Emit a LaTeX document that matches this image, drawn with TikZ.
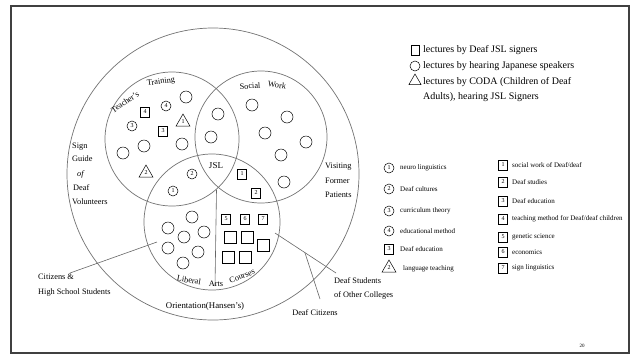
\documentclass[tikz,border=0pt]{standalone}
\usepackage{fontspec}
\setmainfont{Liberation Serif}
\usetikzlibrary{shapes.geometric}

\begin{document}
\begin{tikzpicture}[x=1pt,y=-1pt,
ring/.style={circle,draw=black!55,line width=0.7pt,inner sep=0pt},
hc/.style={circle,draw,line width=0.5pt,minimum size=12pt,inner sep=0pt},
hcn/.style={circle,draw,line width=0.5pt,minimum size=10pt,inner sep=0pt,font=\fontsize{6}{6}\selectfont},
ds/.style={rectangle,draw,line width=0.5pt,minimum size=12pt,inner sep=0pt},
dsn/.style={rectangle,draw,line width=0.5pt,minimum width=9pt,minimum height=10pt,inner sep=0pt,font=\fontsize{6}{6}\selectfont},
cd/.style={regular polygon,regular polygon sides=3,draw,line width=0.5pt,minimum size=16pt,inner sep=0pt,font=\fontsize{6}{6}\selectfont},
lbl/.style={font=\fontsize{8.3}{9}\selectfont,inner sep=0pt},
key/.style={font=\fontsize{10}{11}\selectfont,anchor=west,inner sep=0pt},
subkey/.style={font=\fontsize{7}{8}\selectfont,anchor=west,inner sep=0pt},
lead/.style={draw=black!60,line width=0.6pt}]
\useasboundingbox (0,0) rectangle (632,357);
\draw[black!75,line width=1.6pt] (11,6) rectangle (629,353);

\node[ring,minimum size=292pt] (OUT) at (213,174) {};
\node[ring,minimum size=134pt] (TT) at (172,139) {};
\node[ring,minimum size=132pt] (SW) at (261,137) {};
\node[ring,minimum size=136pt] (LA) at (212,222) {};

\coordinate (J) at (216.5,190);
\coordinate (K) at (215,286);
\path[lead] (J) edge (K);

\node[lbl,rotate=35] (tt1) at (125,102) {Teacher's};
\node[lbl,rotate=8] (tt2) at (161,82) {Training};
\node[lbl,rotate=3] (sw1) at (250,86) {Social};
\node[lbl,rotate=-8] (sw2) at (277,85) {Work};
\node[lbl,font=\fontsize{9}{9}\selectfont] (jsl) at (216,166) {JSL};
\node[lbl,rotate=-10] (la1) at (189,280) {Liberal};
\node[lbl] (la2) at (216,284) {Arts};
\node[lbl,rotate=22] (la3) at (242,276) {Courses};

\node[dsn] (t1) at (145,112) {4};
\node[hcn] (t2) at (166,106) {4};
\node[hc] (t3) at (186,97) {};
\node[hcn] (t4) at (132,126) {3};
\node[dsn] (t5) at (163,131) {3};
\node[cd] (t6) at (183,122) {1};
\node[hc] (t7) at (123,153) {};
\node[hc] (t8) at (144,146) {};
\node[hc] (t9) at (182,144) {};
\node[cd] (t10) at (146,173) {2};

\node[hc] (x1) at (218,114) {};
\node[hc] (x2) at (211,137) {};
\node[hcn] (x3) at (192,174) {2};
\node[hcn] (x4) at (173,191) {1};
\node[dsn] (x5) at (242,174) {1};
\node[dsn] (x6) at (256,193) {2};

\node[hc] (s1) at (252,105) {};
\node[hc] (s2) at (287,117) {};
\node[hc] (s3) at (265,133) {};
\node[hc] (s4) at (306,142) {};
\node[hc] (s5) at (281,155) {};
\node[hc] (s6) at (284,182) {};

\node[hc] (l1) at (192,217) {};
\node[hc] (l2) at (168,228) {};
\node[hc] (l3) at (204,232) {};
\node[hc] (l4) at (184,237) {};
\node[hc] (l5) at (168,248) {};
\node[hc] (l6) at (198,252) {};
\node[hc] (l7) at (183,263) {};
\node[dsn] (l8) at (226,219) {5};
\node[dsn] (l9) at (245,219) {6};
\node[dsn] (l10) at (263,219) {7};
\node[ds] (l11) at (230,237) {};
\node[ds] (l12) at (247,237) {};
\node[ds] (l13) at (263,245) {};
\node[ds] (l14) at (228,257) {};
\node[ds] (l15) at (245,257) {};

\node[lbl,anchor=west] (g1) at (72,147) {Sign};
\node[lbl,anchor=west] (g2) at (72,159) {Guide};
\node[lbl,anchor=west] (g3) at (77,174) {\itshape of};
\node[lbl,anchor=west] (g4) at (73,188) {Deaf};
\node[lbl,anchor=west] (g5) at (72,202) {Volunteers};

\node[lbl,anchor=west] (v1) at (325,167) {Visiting};
\node[lbl,anchor=west] (v2) at (325,181) {Former};
\node[lbl,anchor=west] (v3) at (325,195) {Patients};

\node[lbl,anchor=west] (c1) at (38,277) {Citizens \&};
\node[lbl,anchor=west] (c2) at (38,293) {High School Students};
\coordinate (C) at (70,273);
\coordinate (D) at (157,242);
\path[lead] (C) edge (D);

\node[lbl,font=\fontsize{8.8}{9}\selectfont] (ori) at (205,306) {Orientation(Hansen's)};

\node[lbl,anchor=west] (d1) at (334,281) {Deaf Students};
\node[lbl,anchor=west] (d2) at (334,295) {of Other Colleges};
\node[lbl] (dc) at (315,313) {Deaf Citizens};
\coordinate (E) at (275,233);
\coordinate (F) at (336,273);
\path[lead] (E) edge coordinate[pos=0.49] (G) (F);
\coordinate (H) at (320,299);
\path[lead] (G) edge (H);

\node[rectangle,draw,line width=0.5pt,minimum width=8pt,minimum height=10pt,inner sep=0pt] (k1) at (415,50) {};
\node[circle,draw,line width=0.5pt,minimum size=10pt,inner sep=0pt] (k2) at (415,66) {};
\node[regular polygon,regular polygon sides=3,draw,line width=0.5pt,minimum size=14pt,inner sep=0pt] (k3) at (415,81) {};
\node[key] (k1t) at (423,50) {lectures by Deaf JSL signers};
\node[key] (k2t) at (423,66) {lectures by hearing Japanese speakers};
\node[key] (k3t) at (423,82) {lectures by CODA (Children of Deaf};
\node[key] (k4t) at (423,97) {Adults), hearing JSL Signers};

\node[hcn] (a1) at (389,168) {1};
\node[hcn] (a2) at (389,189) {2};
\node[hcn] (a3) at (389,211) {3};
\node[hcn] (a4) at (389,231) {4};
\node[dsn] (a5) at (389,249) {3};
\node[cd] (a6) at (389,268) {2};
\node[subkey] (a1t) at (400,168) {neuro linguistics};
\node[subkey] (a2t) at (400,189) {Deaf cultures};
\node[subkey] (a3t) at (400,211) {curriculum theory};
\node[subkey] (a4t) at (400,231) {educational method};
\node[subkey] (a5t) at (400,249) {Deaf education};
\node[subkey] (a6t) at (403,269) {language teaching};

\node[dsn] (b1) at (503,165) {1};
\node[dsn] (b2) at (503,182) {2};
\node[dsn] (b3) at (503,201) {3};
\node[dsn] (b4) at (503,219) {4};
\node[dsn] (b5) at (503,237) {5};
\node[dsn] (b6) at (503,252) {6};
\node[dsn] (b7) at (503,268) {7};
\node[subkey] (b1t) at (512,165) {social work of Deaf/deaf};
\node[subkey] (b2t) at (512,182) {Deaf studies};
\node[subkey] (b3t) at (512,201) {Deaf education};
\node[subkey] (b4t) at (512,219) {teaching method for Deaf/deaf children};
\node[subkey] (b5t) at (512,237) {genetic science};
\node[subkey] (b6t) at (512,252) {economics};
\node[subkey] (b7t) at (512,268) {sign linguistics};

\node[font=\fontsize{5}{5}\selectfont] (pg) at (582,346) {20};
\end{tikzpicture}
\end{document}
